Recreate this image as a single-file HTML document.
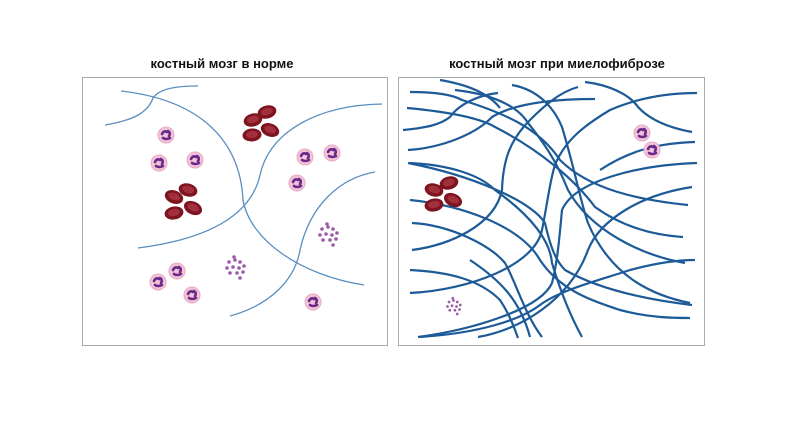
<!DOCTYPE html>
<html><head><meta charset="utf-8"><style>
html,body{margin:0;padding:0;background:#fff;width:800px;height:424px;overflow:hidden}
svg{display:block}
text{font-family:"Liberation Sans",sans-serif;font-weight:bold;font-size:13px;fill:#111}
</style></head><body>
<svg width="800" height="424" viewBox="0 0 800 424">
<defs>
<g id="n"><circle r="8" fill="#f2c4d8"/><circle r="8" fill="none" stroke="#e8a9c4" stroke-width="1"/><path d="M-4,-1 Q-2,-5 1,-3 M2,-4 Q5,-2 3,1 M-3,3 Q0,5 4,3" stroke="#6a2a8a" stroke-width="2.6" fill="none" stroke-linecap="round"/></g>
<g id="r"><ellipse rx="9.5" ry="6.5" fill="#7d1420"/><ellipse rx="6" ry="3.6" fill="#a2303c" cy="-0.5"/></g>
<g id="p"><circle r="1.8" fill="#9b5aa8"/></g>
<g id="pc"><use href="#p" x="0" y="0"/><use href="#p" x="6" y="-2"/><use href="#p" x="11" y="0"/><use href="#p" x="-2" y="6"/><use href="#p" x="4" y="5"/><use href="#p" x="10" y="6"/><use href="#p" x="15" y="4"/><use href="#p" x="1" y="11"/><use href="#p" x="8" y="11"/><use href="#p" x="14" y="10"/><use href="#p" x="11" y="16"/><use href="#p" x="5" y="-5"/></g>
</defs>
<text x="222" y="68" text-anchor="middle">костный мозг в норме</text>
<text x="557" y="68" text-anchor="middle">костный мозг при миелофиброзе</text>
<rect x="82.5" y="77.5" width="305" height="268" fill="#fff" stroke="#aaa" stroke-width="1"/>
<rect x="398.5" y="77.5" width="306" height="268" fill="#fff" stroke="#aaa" stroke-width="1"/>
<g fill="none" stroke="#5b8fc0" stroke-width="1.3">
<path d="M105,125 C135,120 148,112 153,98 C160,88 178,86 198,86"/>
<path d="M121,91 C200,100 240,140 243,200 C250,240 300,275 364,285"/>
<path d="M138,248 C200,240 250,220 260,175 C270,130 320,105 382,104"/>
<path d="M230,316 C270,305 295,280 300,250 C310,205 340,178 375,172"/>
</g>
<g fill="none" stroke="#1d5a98" stroke-width="2.2">
<path d="M410,92 C440,92 455,96 462,100 C510,115 540,130 560,160 C590,190 640,200 688,205"/>
<path d="M407,108 C450,112 480,118 495,127 C540,150 575,180 595,207 C620,225 650,235 683,237"/>
<path d="M455,90 C500,95 520,110 528,123 C550,150 560,170 568,190 C590,230 640,255 685,263"/>
<path d="M512,85 C540,90 555,110 562,127 C575,170 580,200 588,223 C610,275 650,295 690,303"/>
<path d="M410,163 C450,165 480,175 495,190 C530,215 550,240 552,263 C560,290 570,315 582,337"/>
<path d="M412,223 C450,225 490,245 505,263 C515,280 525,315 542,337"/>
<path d="M408,163 C470,175 530,200 545,223 C550,245 555,260 565,270 C600,290 650,300 692,305"/>
<path d="M403,130 C425,128 440,125 450,117 C460,103 480,95 498,93"/>
<path d="M408,150 C440,148 475,135 492,117 C515,103 555,99 595,99"/>
<path d="M412,250 C450,245 495,225 502,190 C503,160 510,140 530,120 C545,105 560,92 578,87"/>
<path d="M410,293 C470,290 535,265 542,230 C548,200 550,180 555,165 C565,140 585,125 610,110 C640,97 670,93 697,93"/>
<path d="M418,337 C470,330 540,310 552,283 C558,260 560,230 562,210 C575,180 640,165 697,163"/>
<path d="M478,337 C520,330 570,300 588,250 C600,220 640,195 692,187"/>
<path d="M585,82 C610,85 630,95 638,107 C650,120 670,128 692,132"/>
<path d="M410,200 C460,205 520,225 540,260 C560,290 590,300 620,310 C650,318 675,318 690,318"/>
<path d="M440,80 C470,85 490,95 500,108"/>
<path d="M600,170 C630,150 660,143 695,142"/>
<path d="M470,260 C500,280 520,300 530,337"/>
<path d="M420,337 C480,333 520,320 540,305 C560,290 600,280 630,270 C660,262 680,260 695,260"/>
<path d="M410,270 C450,272 480,280 500,300 C510,315 515,330 518,338"/>
</g>
<use href="#r" x="267" y="112" transform="rotate(-15 267 112)"/>
<use href="#r" x="253" y="120" transform="rotate(-15 253 120)"/>
<use href="#r" x="270" y="130" transform="rotate(20 270 130)"/>
<use href="#r" x="252" y="135" transform="rotate(-5 252 135)"/>
<use href="#r" x="188" y="190" transform="rotate(15 188 190)"/>
<use href="#r" x="174" y="197" transform="rotate(20 174 197)"/>
<use href="#r" x="193" y="208" transform="rotate(25 193 208)"/>
<use href="#r" x="174" y="213" transform="rotate(-10 174 213)"/>
<use href="#r" x="449" y="183" transform="rotate(-15 449 183)"/>
<use href="#r" x="434" y="190" transform="rotate(15 434 190)"/>
<use href="#r" x="453" y="200" transform="rotate(25 453 200)"/>
<use href="#r" x="434" y="205" transform="rotate(-10 434 205)"/>
<use href="#n" x="166" y="135"/><use href="#n" x="159" y="163"/><use href="#n" x="195" y="160"/>
<use href="#n" x="305" y="157"/><use href="#n" x="332" y="153"/><use href="#n" x="297" y="183"/>
<use href="#n" x="158" y="282"/><use href="#n" x="177" y="271"/><use href="#n" x="192" y="295"/>
<use href="#n" x="313" y="302"/>
<use href="#n" x="642" y="133"/><use href="#n" x="652" y="150"/>
<use href="#pc" x="229" y="262"/>
<use href="#pc" x="322" y="229"/>
<use href="#pc" transform="translate(449,302) scale(0.75)"/>
</svg>
</body></html>
